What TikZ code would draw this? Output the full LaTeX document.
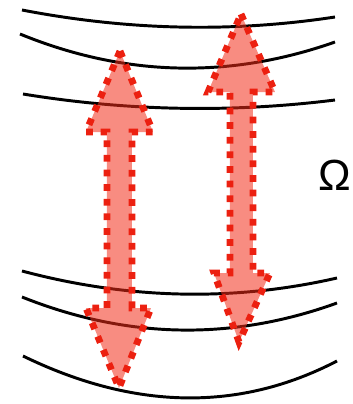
\documentclass[tikz,border=0pt]{standalone}
\usepackage{fontspec}
\setmainfont{Liberation Sans}
\usepackage{tikz,xcolor}
\definecolor{pumpfill}{RGB}{242,45,25}
\definecolor{pumpdot}{RGB}{236,32,16}
\begin{document}
\begin{tikzpicture}[x=0.025cm,y=-0.025cm,
  level/.style={black,line width=2.1pt},
  pump/.style={fill=pumpfill,fill opacity=0.55,draw=pumpdot,draw opacity=1,line width=4.8pt,dash pattern=on 4.8pt off 5.6pt,line join=miter,miter limit=3}]
\useasboundingbox (0,0) rectangle (353,404);

%levels, upper group
\draw[level] (22,10) .. controls (126,30) and (230,33) .. (335,17);
\draw[level] (20,34) .. controls (125,77) and (230,79) .. (335,42);
\draw[level] (23,94) .. controls (127,111) and (231,113) .. (335,100);

%levels, lower group
\draw[level] (22,271) .. controls (127,299) and (232,302) .. (337,278);
\draw[level] (22,297) .. controls (127,339) and (232,341) .. (337,303);
\draw[level] (23,356) .. controls (134,410) and (239,412) .. (337,361);

%double arrows
\draw[pump] (120,51) -- (153,132) -- (132,132) -- (132,308) -- (151,308) -- (119,388)
  -- (86,308) -- (107,308) -- (107,132) -- (86,132) -- cycle;
\draw[pump] (241,14) -- (275,92) -- (253,92) -- (253,273) -- (270,273) -- (239,342)
  -- (214,273) -- (230,273) -- (230,92) -- (208,92) -- cycle;

\node[anchor=base west,inner sep=0pt,font=\fontsize{31}{31}\selectfont] (omega) at (318,190) {Ω};

\end{tikzpicture}
\end{document}
